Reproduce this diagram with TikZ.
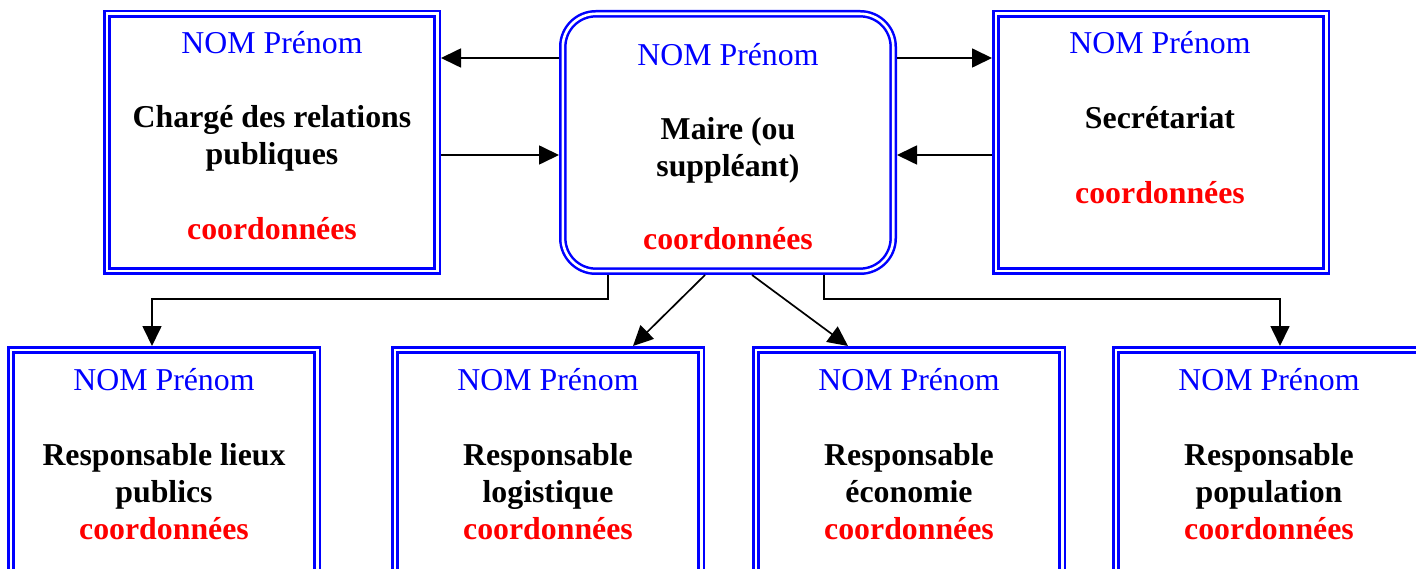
\documentclass[tikz,border=0pt]{standalone}
\usepackage{fontspec}
\setmainfont{Liberation Serif}
\usetikzlibrary{arrows.meta,calc}
\definecolor{pblue}{RGB}{0,0,255}
\definecolor{pred}{RGB}{255,0,0}
\begin{document}
\begin{tikzpicture}[x=1pt,y=-1pt,
  box/.style={draw=pblue,line width=2.5pt,double=white,double distance=2.6pt,
    inner sep=0pt,outer sep=3.8pt,minimum width=#1,anchor=north west},
  topbox/.style={box=330.4pt,minimum height=257.4pt},
  botbox/.style={box=306.4pt,minimum height=300pt},
  arr/.style={line width=1.7pt,-{Triangle[length=20pt,width=19pt]}},
  nom/.style={text=pblue,font=\fontsize{31.8}{36}\selectfont,anchor=base},
  role/.style={text=black,font=\fontsize{31.8}{37}\selectfont\bfseries,anchor=base,align=center},
  coord/.style={text=pred,font=\fontsize{31.8}{36}\selectfont\bfseries,anchor=base},
]
\useasboundingbox (0,0) rectangle (1416,569);
\clip (0,0) rectangle (1416,569);

% top boxes (anchor = outer edge)
\node[topbox] (tl) at (103,10) {};
\node[topbox,rounded corners=33pt] (mid) at (559,10) {};
\node[topbox] (tr) at (992,10) {};

% bottom boxes
\node[botbox] (b1) at (7,346) {};
\node[botbox] (b2) at (391,346) {};
\node[botbox] (b3) at (752,346) {};
\node[botbox] (b4) at (1112,346) {};

% texts top-left
\node[nom] (tlnom) at (272,54) {NOM Prénom};
\node[role] (tlrole) at (272,165) {Chargé des relations\\publiques};
\node[coord] (tlcoord) at (272,240) {coordonnées};
% middle
\node[nom] (mnom) at (728,66) {NOM Prénom};
\node[role] (mrole) at (728,177) {Maire (ou\\suppléant)};
\node[coord] (mcoord) at (728,250) {coordonnées};
% top-right
\node[nom] (trnom) at (1160,54) {NOM Prénom};
\node[role] (trrole) at (1160,129) {Secrétariat};
\node[coord] (trcoord) at (1160,204) {coordonnées};
% bottom
\node[nom] (b1nom) at (164,390) {NOM Prénom};
\node[role] (b1role) at (164,502) {Responsable lieux\\publics};
\node[coord] (b1coord) at (164,539) {coordonnées};
\node[nom] (b2nom) at (548,390) {NOM Prénom};
\node[role] (b2role) at (548,502) {Responsable\\logistique};
\node[coord] (b2coord) at (548,539) {coordonnées};
\node[nom] (b3nom) at (909,390) {NOM Prénom};
\node[role] (b3role) at (909,502) {Responsable\\économie};
\node[coord] (b3coord) at (909,539) {coordonnées};
\node[nom] (b4nom) at (1269,390) {NOM Prénom};
\node[role] (b4role) at (1269,502) {Responsable\\population};
\node[coord] (b4coord) at (1269,539) {coordonnées};

% helper coordinates
\coordinate (ya) at (0,58);
\coordinate (yb) at (0,155);
\coordinate (yc) at (0,299);
\coordinate (x1) at (152,0);
\coordinate (x2) at (608,0);
\coordinate (x3) at (824,0);
\coordinate (x4) at (1280,0);
\coordinate (d1s) at (705,0);
\coordinate (d1e) at (633,0);
\coordinate (d2s) at (752,0);
\coordinate (d2e) at (848,0);

% horizontal arrows
\draw[arr] (mid.west |- ya) -- (tl.east |- ya);
\draw[arr] (tl.east |- yb) -- (mid.west |- yb);
\draw[arr] (mid.east |- ya) -- (tr.west |- ya);
\draw[arr] (tr.west |- yb) -- (mid.east |- yb);

% down connectors
\draw[arr] (x2 |- mid.south) -- (x2 |- yc) -- (x1 |- yc) -- (x1 |- b1.north);
\draw[arr] (x3 |- mid.south) -- (x3 |- yc) -- (x4 |- yc) -- (x4 |- b4.north);
\draw[arr] (d1s |- mid.south) -- (d1e |- b2.north);
\draw[arr] (d2s |- mid.south) -- (d2e |- b3.north);
\end{tikzpicture}
\end{document}
